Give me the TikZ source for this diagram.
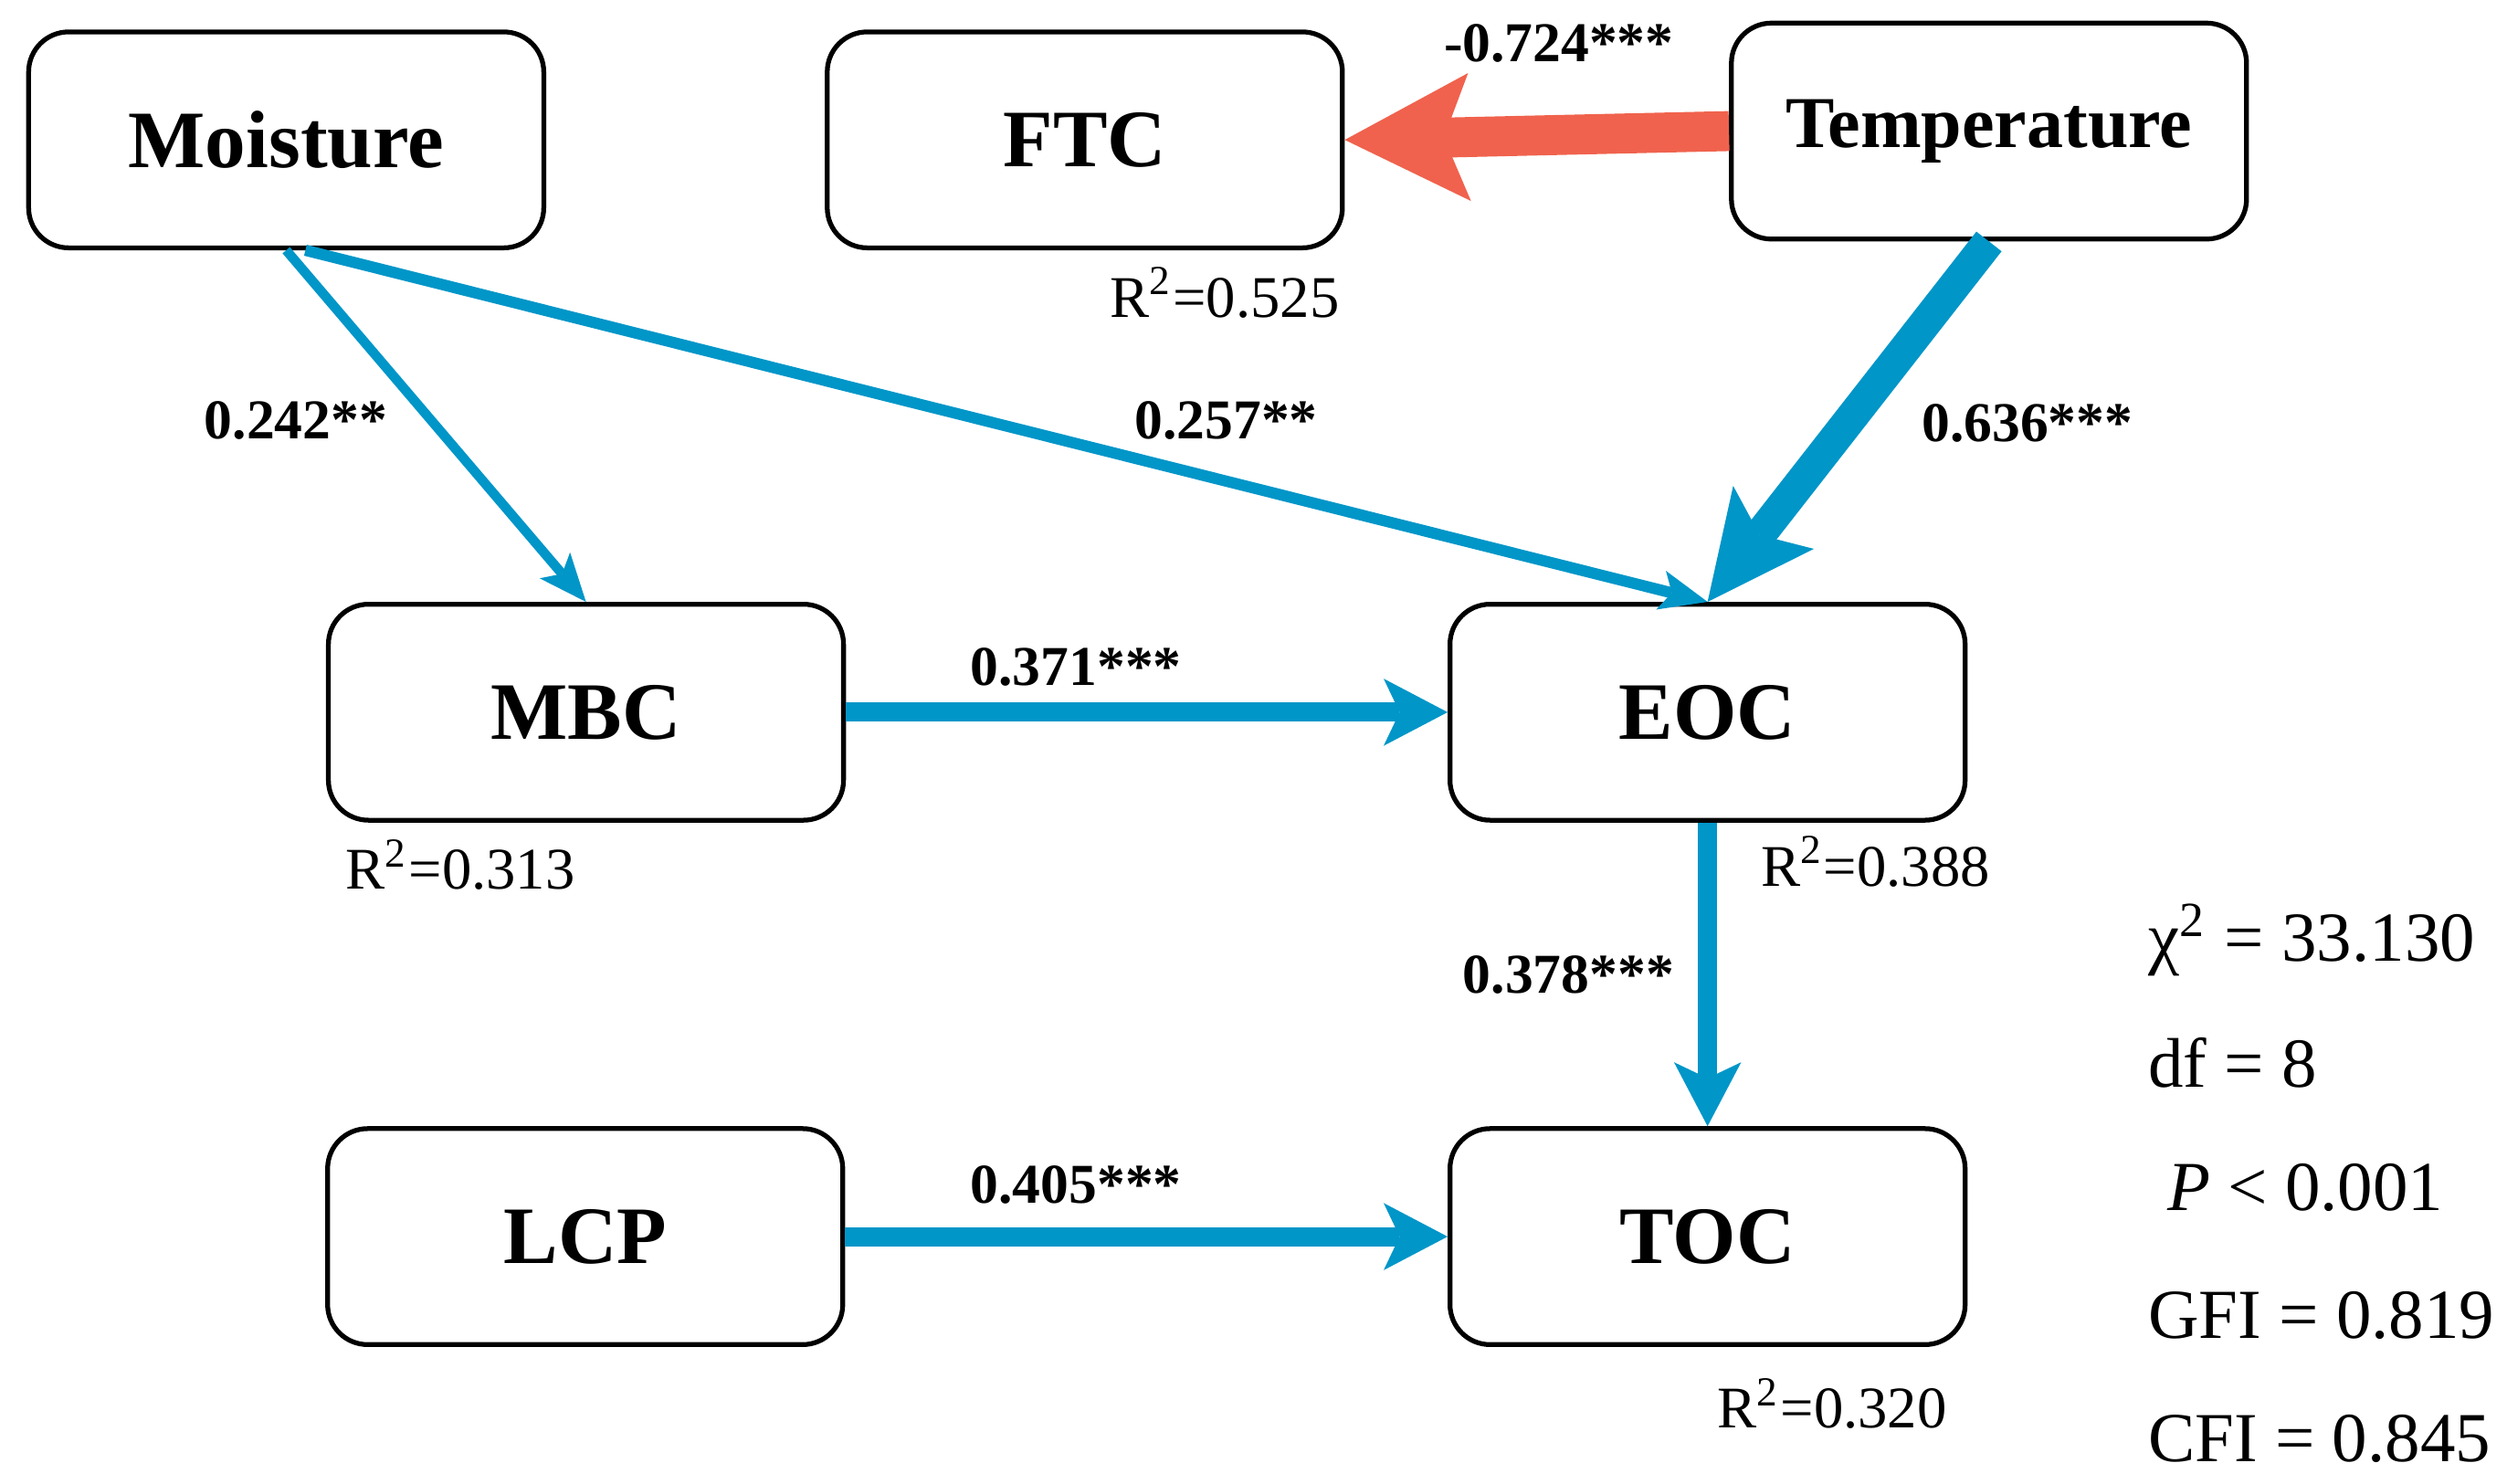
\documentclass[tikz,border=0pt]{standalone}
\usepackage{fontspec}
\setmainfont{Liberation Serif}
\usetikzlibrary{arrows.meta}
\definecolor{pathblue}{RGB}{0,150,200}
\definecolor{pathred}{RGB}{240,98,77}
\tikzset{
 var/.style={draw=black, fill=white, line width=0.03cm, rounded corners=0.25cm, minimum width=3.22cm, minimum height=1.35cm, inner sep=0pt, font=\bfseries\fontsize{14.5}{16}\selectfont},
 coef/.style={font=\bfseries\fontsize{10}{12}\selectfont, inner sep=0pt},
 rsq/.style={font=\fontsize{10.5}{12}\selectfont, inner sep=0pt},
 fitstat/.style={font=\fontsize{12.5}{14}\selectfont, inner sep=0pt, anchor=west},
 thinpath/.style={draw=pathblue, line width=0.06cm, -{Stealth[length=0.3cm, width=0.25cm, inset=0.07cm, line width=0pt]}},
 midpath/.style={draw=pathblue, line width=0.12cm, -{Stealth[length=0.4cm, width=0.42cm, inset=0.1cm, line width=0pt]}},
 bigpath/.style={draw=pathblue, line width=0.2cm, -{Stealth[length=0.67cm, width=0.64cm, inset=0.14cm, line width=0pt]}},
 negpath/.style={draw=pathred, line width=0.25cm, -{Stealth[length=0.78cm, width=0.8cm, inset=0.16cm, line width=0pt]}},
}
\begin{document}
\begin{tikzpicture}[x=0.01cm, y=-0.01cm]
\useasboundingbox (0,0) rectangle (1568,928);
% variables
\node[var] (moi) at (179,87.5) {Moisture};
\node[var] (ftc) at (678.5,87.5) {FTC};
\node[var, font=\bfseries\fontsize{13}{15}\selectfont] (tem) at (1244,82) {Temperature};
\node[var] (mbc) at (366.5,445.5) {MBC};
\node[var] (eoc) at (1068,445.5) {EOC};
\node[var] (lcp) at (366,773.5) {LCP};
\node[var] (toc) at (1068,773.5) {TOC};
% paths
\draw[negpath] (tem.west) -- (ftc.east);
\draw[bigpath] (tem.south) -- (eoc.north);
\draw[thinpath] (moi.south) -- (mbc.north);
\draw[thinpath, line width=0.07cm] ([xshift=0.12cm]moi.south) -- (eoc.north);
\draw[midpath] (mbc.east) -- (eoc.west);
\draw[midpath] (eoc.south) -- (toc.north);
\draw[midpath] (lcp.east) -- (toc.west);
% coefficients
\node[coef] (c1) at (975,27) {-0.724***};
\node[coef] (c2) at (1268,265) {0.636***};
\node[coef] (c3) at (185,263) {0.242**};
\node[coef] (c4) at (767,263) {0.257**};
\node[coef] (c5) at (673,417) {0.371***};
\node[coef] (c6) at (981,610) {0.378***};
\node[coef] (c7) at (673,741) {0.405***};
% R squared
\node[rsq] (r1) at (766,183) {R\textsuperscript{2}=0.525};
\node[rsq] (r2) at (288,541) {R\textsuperscript{2}=0.313};
\node[rsq] (r3) at (1173,539) {R\textsuperscript{2}=0.388};
\node[rsq] (r4) at (1146,878) {R\textsuperscript{2}=0.320};
% fit statistics
\node[fitstat] (s1) at (1343,588) {χ\textsuperscript{2} = 33.130};
\node[fitstat] (s2) at (1343,665) {df = 8};
\node[fitstat] (s3) at (1355,743) {\textit{P} < 0.001};
\node[fitstat] (s4) at (1343,823) {GFI = 0.819};
\node[fitstat] (s5) at (1343,900) {CFI = 0.845};
\end{tikzpicture}
\end{document}
